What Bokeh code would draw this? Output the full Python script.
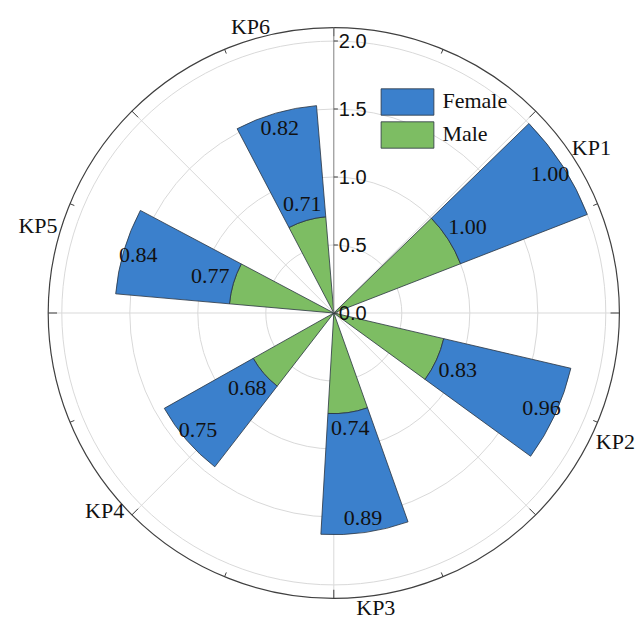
import numpy as np
from bokeh.plotting import figure
from bokeh.models import ColumnDataSource, Legend, LegendItem
from bokeh.embed import file_html
from bokeh.resources import INLINE
from bokeh.core.properties import value

# ---- data ----
categories = ["KP1", "KP2", "KP3", "KP4", "KP5", "KP6"]
female = [1.00, 0.96, 0.89, 0.75, 0.84, 0.82]
male = [1.00, 0.83, 0.74, 0.68, 0.77, 0.71]
cat_pos = [1, 2, 3, 4, 5, 6]          # angular axis position (radians, clockwise from top)
r_ticks = [0.0, 0.5, 1.0, 1.5, 2.0]
r_tick_labels = ["0.0", "0.5", "1.0", "1.5", "2.0"]

# ---- style ----
BLUE = "#3b80cc"
GREEN = "#7dbd63"
EDGE = "#2a3440"
GRID = "#d9d9d9"
R_MAX = 2.0
R_FRAME = 2.1
BAR_W = 0.4
S = 136.0            # pixels per data unit
W, H = 640, 622
CX, CY = 333.3, 312.5
SERIF = value("Liberation Serif")
SANS = value("Liberation Sans")

p = figure(width=W, height=H,
           x_range=(-CX / S, (W - CX) / S), y_range=(-(H - CY) / S, CY / S),
           output_backend="svg", toolbar_location=None,
           x_axis_location=None, y_axis_location=None, min_border=0)
p.xgrid.visible = False
p.ygrid.visible = False
p.outline_line_color = None

theta = np.pi / 2 - np.array(cat_pos, dtype=float)
m = np.array(male)
f = np.array(female)

# grid circles
grid_r = [r for r in r_ticks if r > 0]
p.arc(x=[0] * len(grid_r), y=[0] * len(grid_r), radius=grid_r,
      start_angle=0, end_angle=2 * np.pi, line_color=GRID, line_width=1)

# radial grid lines every 45 degrees (except the radial axis at 90)
ga = np.deg2rad([0, 45, 135, 180, 225, 270, 315])
p.segment(x0=np.zeros(len(ga)), y0=np.zeros(len(ga)),
          x1=R_FRAME * np.cos(ga), y1=R_FRAME * np.sin(ga),
          line_color=GRID, line_width=1)

# outer frame circle
p.arc(x=[0], y=[0], radius=[R_FRAME], start_angle=0, end_angle=2 * np.pi,
      line_color="#404040", line_width=1.2)

# angular ticks
maj = np.deg2rad(np.arange(0, 360, 45))
mnr = np.deg2rad(np.arange(22.5, 360, 45))
p.segment(x0=R_FRAME * np.cos(maj), y0=R_FRAME * np.sin(maj),
          x1=(R_FRAME - 0.065) * np.cos(maj), y1=(R_FRAME - 0.065) * np.sin(maj),
          line_color="#404040", line_width=1)
p.segment(x0=R_FRAME * np.cos(mnr), y0=R_FRAME * np.sin(mnr),
          x1=(R_FRAME - 0.035) * np.cos(mnr), y1=(R_FRAME - 0.035) * np.sin(mnr),
          line_color="#404040", line_width=1)

# bars
src = ColumnDataSource(dict(
    start=theta - BAR_W / 2, end=theta + BAR_W / 2,
    male=m, total=m + f,
))
mr = p.annular_wedge(x=0, y=0, inner_radius=0, outer_radius="male",
                     start_angle="start", end_angle="end", source=src,
                     fill_color=GREEN, line_color=EDGE, line_width=0.8)
fr = p.annular_wedge(x=0, y=0, inner_radius="male", outer_radius="total",
                     start_angle="start", end_angle="end", source=src,
                     fill_color=BLUE, line_color=EDGE, line_width=0.8)

# radial axis line + ticks + labels
p.segment(x0=[0], y0=[0], x1=[0], y1=[R_FRAME], line_color="#808080", line_width=1)
p.segment(x0=[0] * len(r_ticks), y0=r_ticks, x1=[0.03] * len(r_ticks), y1=r_ticks,
          line_color="#404040", line_width=1)
p.text(x=[0] * len(r_ticks), y=r_ticks, text=r_tick_labels, x_offset=5,
       text_align="left", text_baseline="middle", text_font=SANS,
       text_font_size="20px", text_color="#111111")

# value labels
rm = m + 0.10 + 0.08 * np.abs(np.cos(theta))
rf = m + f - 0.11
p.text(x=rm * np.cos(theta), y=rm * np.sin(theta), text=[f"{v:.2f}" for v in male],
       text_align="center", text_baseline="middle", text_font=SERIF,
       text_font_size="22px", text_color="#111111")
p.text(x=rf * np.cos(theta), y=rf * np.sin(theta), text=[f"{v:.2f}" for v in female],
       text_align="center", text_baseline="middle", text_font=SERIF,
       text_font_size="22px", text_color="#111111")

# category labels: text box edge kept a fixed distance outside the frame circle
half_w, half_h, pad = 20.0, 10.0, 2.0
ext = np.minimum(half_w / np.maximum(np.abs(np.cos(theta)), 1e-6),
                 half_h / np.maximum(np.abs(np.sin(theta)), 1e-6))
rc = R_FRAME + (pad + ext) / S
p.text(x=rc * np.cos(theta), y=rc * np.sin(theta), text=categories,
       text_align="center", text_baseline="middle", text_font=SERIF,
       text_font_size="22px", text_color="#111111")

legend = Legend(items=[LegendItem(label="Female", renderers=[fr]),
                       LegendItem(label="Male", renderers=[mr])],
                location=(374.4, 471.3), glyph_width=66, glyph_height=33,
                spacing=-3, label_standoff=2, padding=0, margin=0,
                border_line_color=None, background_fill_alpha=0,
                label_text_font="Liberation Serif", label_text_font_size="22px",
                label_text_color="#111111")
p.add_layout(legend)

open("out.html", "w").write(file_html(p, INLINE))
